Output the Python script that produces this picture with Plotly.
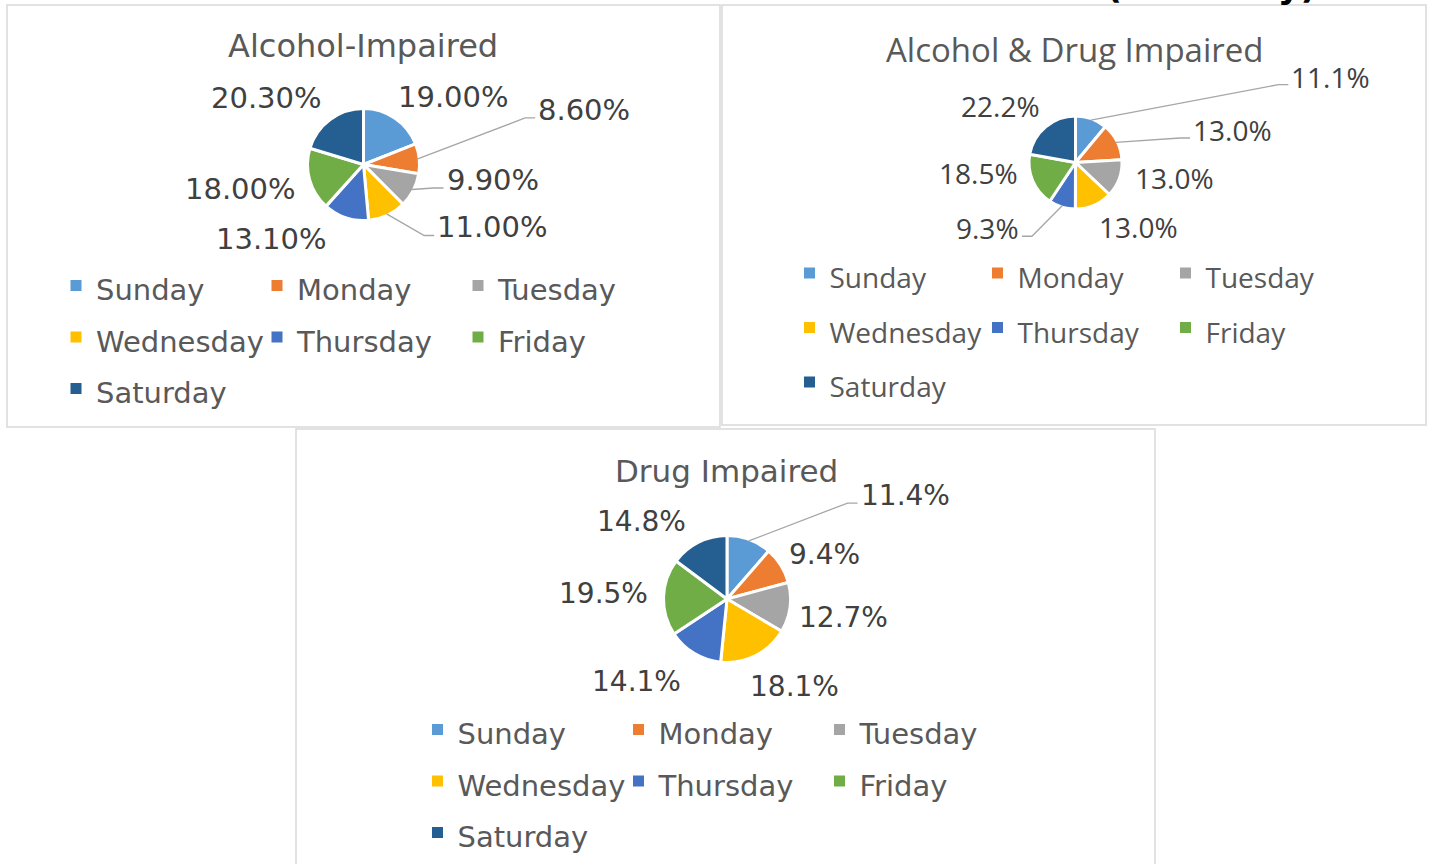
import math
import plotly.graph_objects as go

# ---------------- data ----------------
days = ["Sunday", "Monday", "Tuesday", "Wednesday", "Thursday", "Friday", "Saturday"]
alcohol_impaired = [19.00, 8.60, 9.90, 11.00, 13.10, 18.00, 20.30]
alcohol_drug_impaired = [11.1, 13.0, 13.0, 13.0, 9.3, 18.5, 22.2]
drug_impaired = [11.4, 9.4, 12.7, 18.1, 14.1, 19.5, 14.8]
chart_titles = ["Alcohol-Impaired", "Alcohol & Drug Impaired", "Drug Impaired"]
label_formats = ["{:.2f}%", "{:.1f}%", "{:.1f}%"]
page_heading = "(Weekday)"

# ---------------- style ----------------
day_colors = ["#5B9BD5", "#ED7D31", "#A5A5A5", "#FFC000", "#4472C4", "#70AD47", "#255E91"]
W, H = 1431, 864
LABEL_COLOR = "#404040"
TITLE_COLOR = "#595959"
LEADER_COLOR = "#A6A6A6"
BOX_COLOR = "#D9D9D9"

charts = [
    dict(values=alcohol_impaired, title=chart_titles[0], fmt=label_formats[0],
         cx=363.5, cy=164.5, r=54.5, font="DejaVu Sans", label_size=29, legend_size=29,
         title_xy=(363, 46), title_size=32,
         label_off=[(59, -22), (166.5, -48.8), (80.6, -9.5), (105.9, 13.6),
                    (-74.6, 22.8), (-70.2, 9.8), (-64.3, -22.7)],
         leader=[False, True, True, True, False, False, False],
         legend_xy=(56, 254.75), legend_pitch=51.5, legend_entry=156,
         box=(7, 5, 720, 427)),
    dict(values=alcohol_drug_impaired, title=chart_titles[1], fmt=label_formats[1],
         cx=1075.5, cy=162.5, r=45, font="Open Sans", label_size=28, legend_size=28,
         title_xy=(1074.5, 49), title_size=33,
         label_off=[(239.9, -43.5), (116.8, -12.3), (57.2, 0.4), (45.1, 22.8),
                    (-74.9, 22.7), (-55.8, -6.9), (-46.6, -22.2)],
         leader=[True, True, False, False, True, False, False],
         legend_xy=(789.5, 240.75), legend_pitch=54.5, legend_entry=143,
         box=(722, 5, 1426, 425)),
    dict(values=drug_impaired, title=chart_titles[2], fmt=label_formats[2],
         cx=727, cy=599, r=62, font="DejaVu Sans", label_size=28, legend_size=29,
         title_xy=(726.7, 470.5), title_size=31,
         label_off=[(156.3, -45.9), (45.4, -12.1), (54.9, 10.6), (40, 31.7),
                    (-58.3, 29.9), (-61.7, -4.2), (-57.5, -21.6)],
         leader=[True, False, False, False, False, False, False],
         legend_xy=(417.5, 698.75), legend_pitch=51.5, legend_entry=156,
         box=(296, 429, 1155, 880)),
]

GAP = 3  # white separation between slices


def X(px):
    return px / W


def Y(py):
    return 1 - py / H


def text_width(txt, size, family):
    if family == "Open Sans":
        w = {"d": 0.572, ".": 0.266, "%": 0.834}
    else:
        w = {"d": 0.636, ".": 0.318, "%": 0.950}
    return sum(w["d"] if ch.isdigit() else w.get(ch, 0.6) for ch in txt) * size


fig = go.Figure()
annotations = []
shapes = []

for ci, ch in enumerate(charts):
    legend_id = "legend" if ci == 0 else f"legend{ci + 1}"
    R = ch["r"] + GAP / 2
    fig.add_trace(go.Pie(
        labels=days, values=ch["values"], sort=False, direction="clockwise", rotation=0,
        marker=dict(colors=day_colors, line=dict(color="white", width=GAP)),
        textinfo="none", hoverinfo="label+value", showlegend=False,
        domain=dict(x=[X(ch["cx"] - R), X(ch["cx"] + R)],
                    y=[Y(ch["cy"] + R), Y(ch["cy"] - R)]),
    ))

    # data labels (positioned from each slice's mid-angle on the rim)
    total = sum(ch["values"])
    cum = 0.0
    for i, v in enumerate(ch["values"]):
        mid = (cum + v / 2) / total * 2 * math.pi
        cum += v
        ex = ch["cx"] + ch["r"] * math.sin(mid)
        ey = ch["cy"] - ch["r"] * math.cos(mid)
        dx, dy = ch["label_off"][i]
        lx, ly = ex + dx, ey + dy
        txt = ch["fmt"].format(v)
        annotations.append(dict(
            x=X(lx), y=Y(ly), xref="paper", yref="paper", text=txt, showarrow=False,
            xanchor="center", yanchor="middle",
            font=dict(family=ch["font"], size=ch["label_size"], color=LABEL_COLOR)))
        if ch["leader"][i]:
            hw = text_width(txt, ch["label_size"], ch["font"]) / 2 - 1
            side = 1 if lx > ex else -1
            endx = lx - side * (hw + 4)
            endy = ly + 8
            elbx = endx - side * 10
            shapes.append(dict(
                type="path", xref="paper", yref="paper",
                path=f"M {X(ex)},{Y(ey)} L {X(elbx)},{Y(endy)} L {X(endx)},{Y(endy)}",
                line=dict(color=LEADER_COLOR, width=1.3)))

    # chart title
    annotations.append(dict(
        x=X(ch["title_xy"][0]), y=Y(ch["title_xy"][1]), xref="paper", yref="paper",
        text=ch["title"], showarrow=False, xanchor="center", yanchor="middle",
        font=dict(family=ch["font"], size=ch["title_size"], color=TITLE_COLOR)))

    # chart border
    bx0, by0, bx1, by1 = ch["box"]
    shapes.append(dict(type="rect", xref="paper", yref="paper",
                       x0=X(bx0), x1=X(bx1), y0=Y(by1), y1=Y(by0),
                       line=dict(color=BOX_COLOR, width=1.5), layer="below"))

    # legend entries (three columns, like the original)
    for i, d in enumerate(days):
        fig.add_trace(go.Scatter(
            x=[None], y=[None], mode="markers",
            name=f'<span style="font-size:{ch["legend_size"]}px">{d}</span>',
            marker=dict(symbol="square", size=11, color=day_colors[i]),
            legend=legend_id, legendgroup=f"{legend_id}_col{i % 3}", showlegend=True,
            hoverinfo="skip"))

    fsz = (ch["legend_pitch"] - 3) / 1.3
    fig.update_layout({legend_id: dict(
        orientation="h", traceorder="grouped", x=X(ch["legend_xy"][0]), y=Y(ch["legend_xy"][1]),
        xanchor="left", yanchor="top", bgcolor="rgba(0,0,0,0)", borderwidth=0,
        entrywidth=ch["legend_entry"], entrywidthmode="pixels", tracegroupgap=0,
        font=dict(family=ch["font"], size=fsz, color=TITLE_COLOR))})

# partially visible page heading (cut off at the top, as in the source)
annotations.append(dict(
    x=X(1104), y=Y(8.5), xref="paper", yref="paper", text=page_heading, showarrow=False,
    xanchor="left", yanchor="bottom",
    font=dict(family="DejaVu Sans", size=35, color="black", weight="bold")))

fig.update_layout(
    width=W, height=H, margin=dict(l=0, r=0, t=0, b=0),
    paper_bgcolor="white", plot_bgcolor="white",
    xaxis=dict(visible=False), yaxis=dict(visible=False),
    annotations=annotations, shapes=shapes, showlegend=True,
)

fig.write_html("out.html", config={"displayModeBar": False},
               post_script="document.body.style.margin='0';document.body.style.overflow='hidden';")
